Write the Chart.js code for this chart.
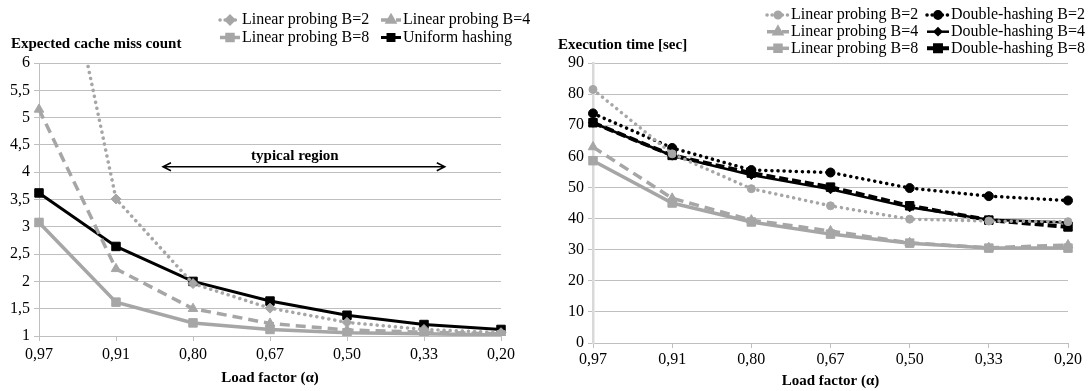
<!DOCTYPE html>
<html>
<head>
<meta charset="utf-8">
<script src="https://cdn.jsdelivr.net/npm/chart.js@4.4.1/dist/chart.umd.min.js"></script>
<style>
    html, body { margin: 0; padding: 0; background: #fff; }
    #wrap { position: relative; width: 1090px; height: 391px; }
    .panel { position: absolute; top: 0; width: 545px; height: 391px; }
    #missPanel { left: 0; }
    #timePanel { left: 545px; }
</style>
</head>
<body>
<div id="wrap">
    <div class="panel" id="missPanel"><canvas id="missChart" width="545" height="391"></canvas></div>
    <div class="panel" id="timePanel"><canvas id="timeChart" width="545" height="391"></canvas></div>
</div>
<script>
// Load factor categories (shared by both charts)
const loadFactors = ['0,97', '0,91', '0,80', '0,67', '0,50', '0,33', '0,20'];

// Left chart: expected cache miss count
const missLinearB2 = [10.2, 3.51, 1.96, 1.51, 1.25, 1.12, 1.06];
const missLinearB4 = [5.15, 2.23, 1.50, 1.23, 1.11, 1.07, 1.04];
const missLinearB8 = [3.08, 1.62, 1.24, 1.12, 1.06, 1.04, 1.02];
const missUniform = [3.62, 2.64, 2.00, 1.64, 1.38, 1.21, 1.12];

// Right chart: execution time [sec]
const timeLinearB2 = [81.5, 60.8, 49.6, 44.1, 39.8, 39.2, 39.0];
const timeLinearB4 = [63.0, 46.5, 39.5, 36.0, 32.2, 30.6, 31.5];
const timeLinearB8 = [58.6, 45.0, 38.9, 35.0, 32.1, 30.5, 30.5];
const timeDoubleB2 = [73.8, 62.7, 55.6, 54.8, 49.8, 47.2, 45.8];
const timeDoubleB4 = [70.8, 60.2, 54.0, 49.4, 43.6, 39.6, 38.7];
const timeDoubleB8 = [70.8, 60.3, 54.6, 50.1, 44.1, 39.5, 37.3];

// "typical region" marker on the left chart (category index range, y value)
const typicalRegion = { from: 1.61, to: 5.27, value: 4.1, label: 'typical region' };

const serif = "'Liberation Serif', 'Times New Roman', serif";
const gray = '#a6a6a6';
const black = '#000000';
const gridColor = '#bfbfbf';

const dotted = [0.1, 6];

function series(label, data, color, style, radius, width, dash) {
    return {
        label: label,
        data: data,
        borderColor: color,
        backgroundColor: color,
        borderWidth: width,
        borderDash: dash || [],
        borderCapStyle: dash === dotted ? 'round' : 'butt',
        pointStyle: style,
        pointRadius: radius,
        pointBorderWidth: 1,
        pointBackgroundColor: color,
        pointBorderColor: color,
        tension: 0
    };
}

/**
 * Draws the horizontal y title, the two-column legend and the annotation
 */
const decorPlugin = {
    id: 'decor',
    afterDraw(chart, args, opts) {
        const ctx = chart.ctx;
        ctx.save();

        // y axis title
        ctx.fillStyle = '#000';
        ctx.font = 'bold 15px ' + serif;
        ctx.textAlign = 'left';
        ctx.textBaseline = 'middle';
        ctx.fillText(opts.title, opts.titleX, opts.titleY);

        // legend
        const lg = opts.legend;
        const sets = chart.data.datasets;
        const rows = lg.rows.length;
        const cols = lg.cols.length;
        sets.forEach((ds, i) => {
            const col = lg.order === 'row' ? i % cols : Math.floor(i / rows);
            const row = lg.order === 'row' ? Math.floor(i / cols) : i % rows;
            const x = lg.cols[col];
            const y = lg.rows[row];
            ctx.save();
            ctx.strokeStyle = ds.borderColor;
            ctx.lineWidth = ds.borderWidth;
            ctx.lineCap = ds.borderCapStyle;
            ctx.setLineDash(ds.borderDash.length ? [ds.borderDash[0], 5] : []);
            ctx.beginPath();
            ctx.moveTo(x, y);
            ctx.lineTo(x + lg.sample, y);
            ctx.stroke();
            ctx.setLineDash([]);
            ctx.fillStyle = ds.borderColor;
            Chart.helpers.drawPoint(ctx, {
                pointStyle: ds.pointStyle,
                radius: ds.pointRadius * 0.7,
                rotation: 0,
                borderWidth: 1
            }, x + lg.sample / 2, y);
            ctx.restore();

            ctx.fillStyle = '#000';
            ctx.font = '16px ' + serif;
            ctx.textAlign = 'left';
            ctx.textBaseline = 'middle';
            ctx.fillText(ds.label, x + lg.sample + 2, y);
        });

        // annotation with double arrow
        if (opts.region) {
            const r = opts.region;
            const xs = chart.scales.x;
            const ys = chart.scales.y;
            const x1 = xs.getPixelForValue(r.from);
            const x2 = xs.getPixelForValue(r.to);
            const y = ys.getPixelForValue(r.value);
            ctx.strokeStyle = '#000';
            ctx.lineWidth = 1.5;
            ctx.beginPath();
            ctx.moveTo(x1, y);
            ctx.lineTo(x2, y);
            ctx.moveTo(x1 + 8, y - 4);
            ctx.lineTo(x1, y);
            ctx.lineTo(x1 + 8, y + 4);
            ctx.moveTo(x2 - 8, y - 4);
            ctx.lineTo(x2, y);
            ctx.lineTo(x2 - 8, y + 4);
            ctx.stroke();
            ctx.fillStyle = '#000';
            ctx.font = 'bold 15px ' + serif;
            ctx.textAlign = 'center';
            ctx.textBaseline = 'middle';
            ctx.fillText(r.label, (x1 + x2) / 2 - 9, y - 11);
        }
        ctx.restore();
    }
};

function makeChart(canvasId, datasets, cfg) {
    const canvas = document.getElementById(canvasId);
    return new Chart(canvas, {
        type: 'line',
        data: { labels: loadFactors, datasets: datasets },
        options: {
            responsive: false,
            animation: false,
            layout: { padding: { left: 0, right: cfg.padRight, top: 63, bottom: 0 } },
            plugins: {
                legend: { display: false },
                tooltip: { enabled: false },
                decor: cfg.decor
            },
            scales: {
                x: {
                    type: 'category',
                    offset: false,
                    afterFit: (scale) => { scale.height = cfg.xHeight; },
                    grid: { drawOnChartArea: false, drawTicks: true, tickLength: 5, color: gridColor },
                    border: { display: true, color: gridColor, width: 1 },
                    ticks: {
                        color: '#000',
                        padding: cfg.xTickPad,
                        maxRotation: 0,
                        autoSkip: false,
                        font: { family: serif, size: 16 }
                    },
                    title: {
                        display: true,
                        text: 'Load factor (\u03b1)',
                        color: '#000',
                        font: { family: serif, size: 15, weight: 'bold' },
                        padding: { top: 0, bottom: cfg.titlePad }
                    }
                },
                y: {
                    min: cfg.min,
                    max: cfg.max,
                    afterFit: (scale) => { scale.width = cfg.yWidth; },
                    grid: { color: gridColor, tickLength: 5, lineWidth: 1 },
                    border: { display: true, color: cfg.axisColor, width: cfg.axisWidth },
                    ticks: {
                        stepSize: cfg.step,
                        color: '#000',
                        padding: 4,
                        font: { family: serif, size: 16 },
                        callback: (v) => String(v).replace('.', ',')
                    }
                }
            }
        },
        plugins: [decorPlugin]
    });
}

makeChart('missChart', [
    series('Linear probing B=2', missLinearB2, gray, 'rectRot', 5, 3.5, dotted),
    series('Linear probing B=4', missLinearB4, gray, 'triangle', 5.5, 3.5, [10, 6]),
    series('Linear probing B=8', missLinearB8, gray, 'rect', 6, 3.5),
    series('Uniform hashing', missUniform, black, 'rect', 6, 3)
], {
    min: 1, max: 6, step: 0.5,
    padRight: 44, xHeight: 55, yWidth: 39,
    xTickPad: 4, titlePad: 4,
    axisColor: gridColor, axisWidth: 1,
    decor: {
        title: 'Expected cache miss count', titleX: 11, titleY: 44,
        legend: { cols: [220, 381], rows: [20, 37.5], sample: 20, order: 'row' },
        region: typicalRegion
    }
});

makeChart('timeChart', [
    series('Linear probing B=2', timeLinearB2, gray, 'circle', 4, 3.5, dotted),
    series('Linear probing B=4', timeLinearB4, gray, 'triangle', 5.5, 3.5, [10, 6]),
    series('Linear probing B=8', timeLinearB8, gray, 'rect', 6, 3.5),
    series('Double-hashing B=2', timeDoubleB2, black, 'circle', 4.5, 3.5, dotted),
    series('Double-hashing B=4', timeDoubleB4, black, 'rectRot', 4.5, 2.5),
    series('Double-hashing B=8', timeDoubleB8, black, 'rect', 6, 4, [9, 4])
], {
    min: 0, max: 90, step: 10,
    padRight: 22, xHeight: 48, yWidth: 48,
    xTickPad: 2, titlePad: 1,
    axisColor: '#d9d9d9', axisWidth: 2.5,
    decor: {
        title: 'Execution time [sec]', titleX: 13, titleY: 45,
        legend: { cols: [222, 382], rows: [15, 31.7, 48.3], sample: 22, order: 'col' },
        region: null
    }
});
</script>
</body>
</html>
